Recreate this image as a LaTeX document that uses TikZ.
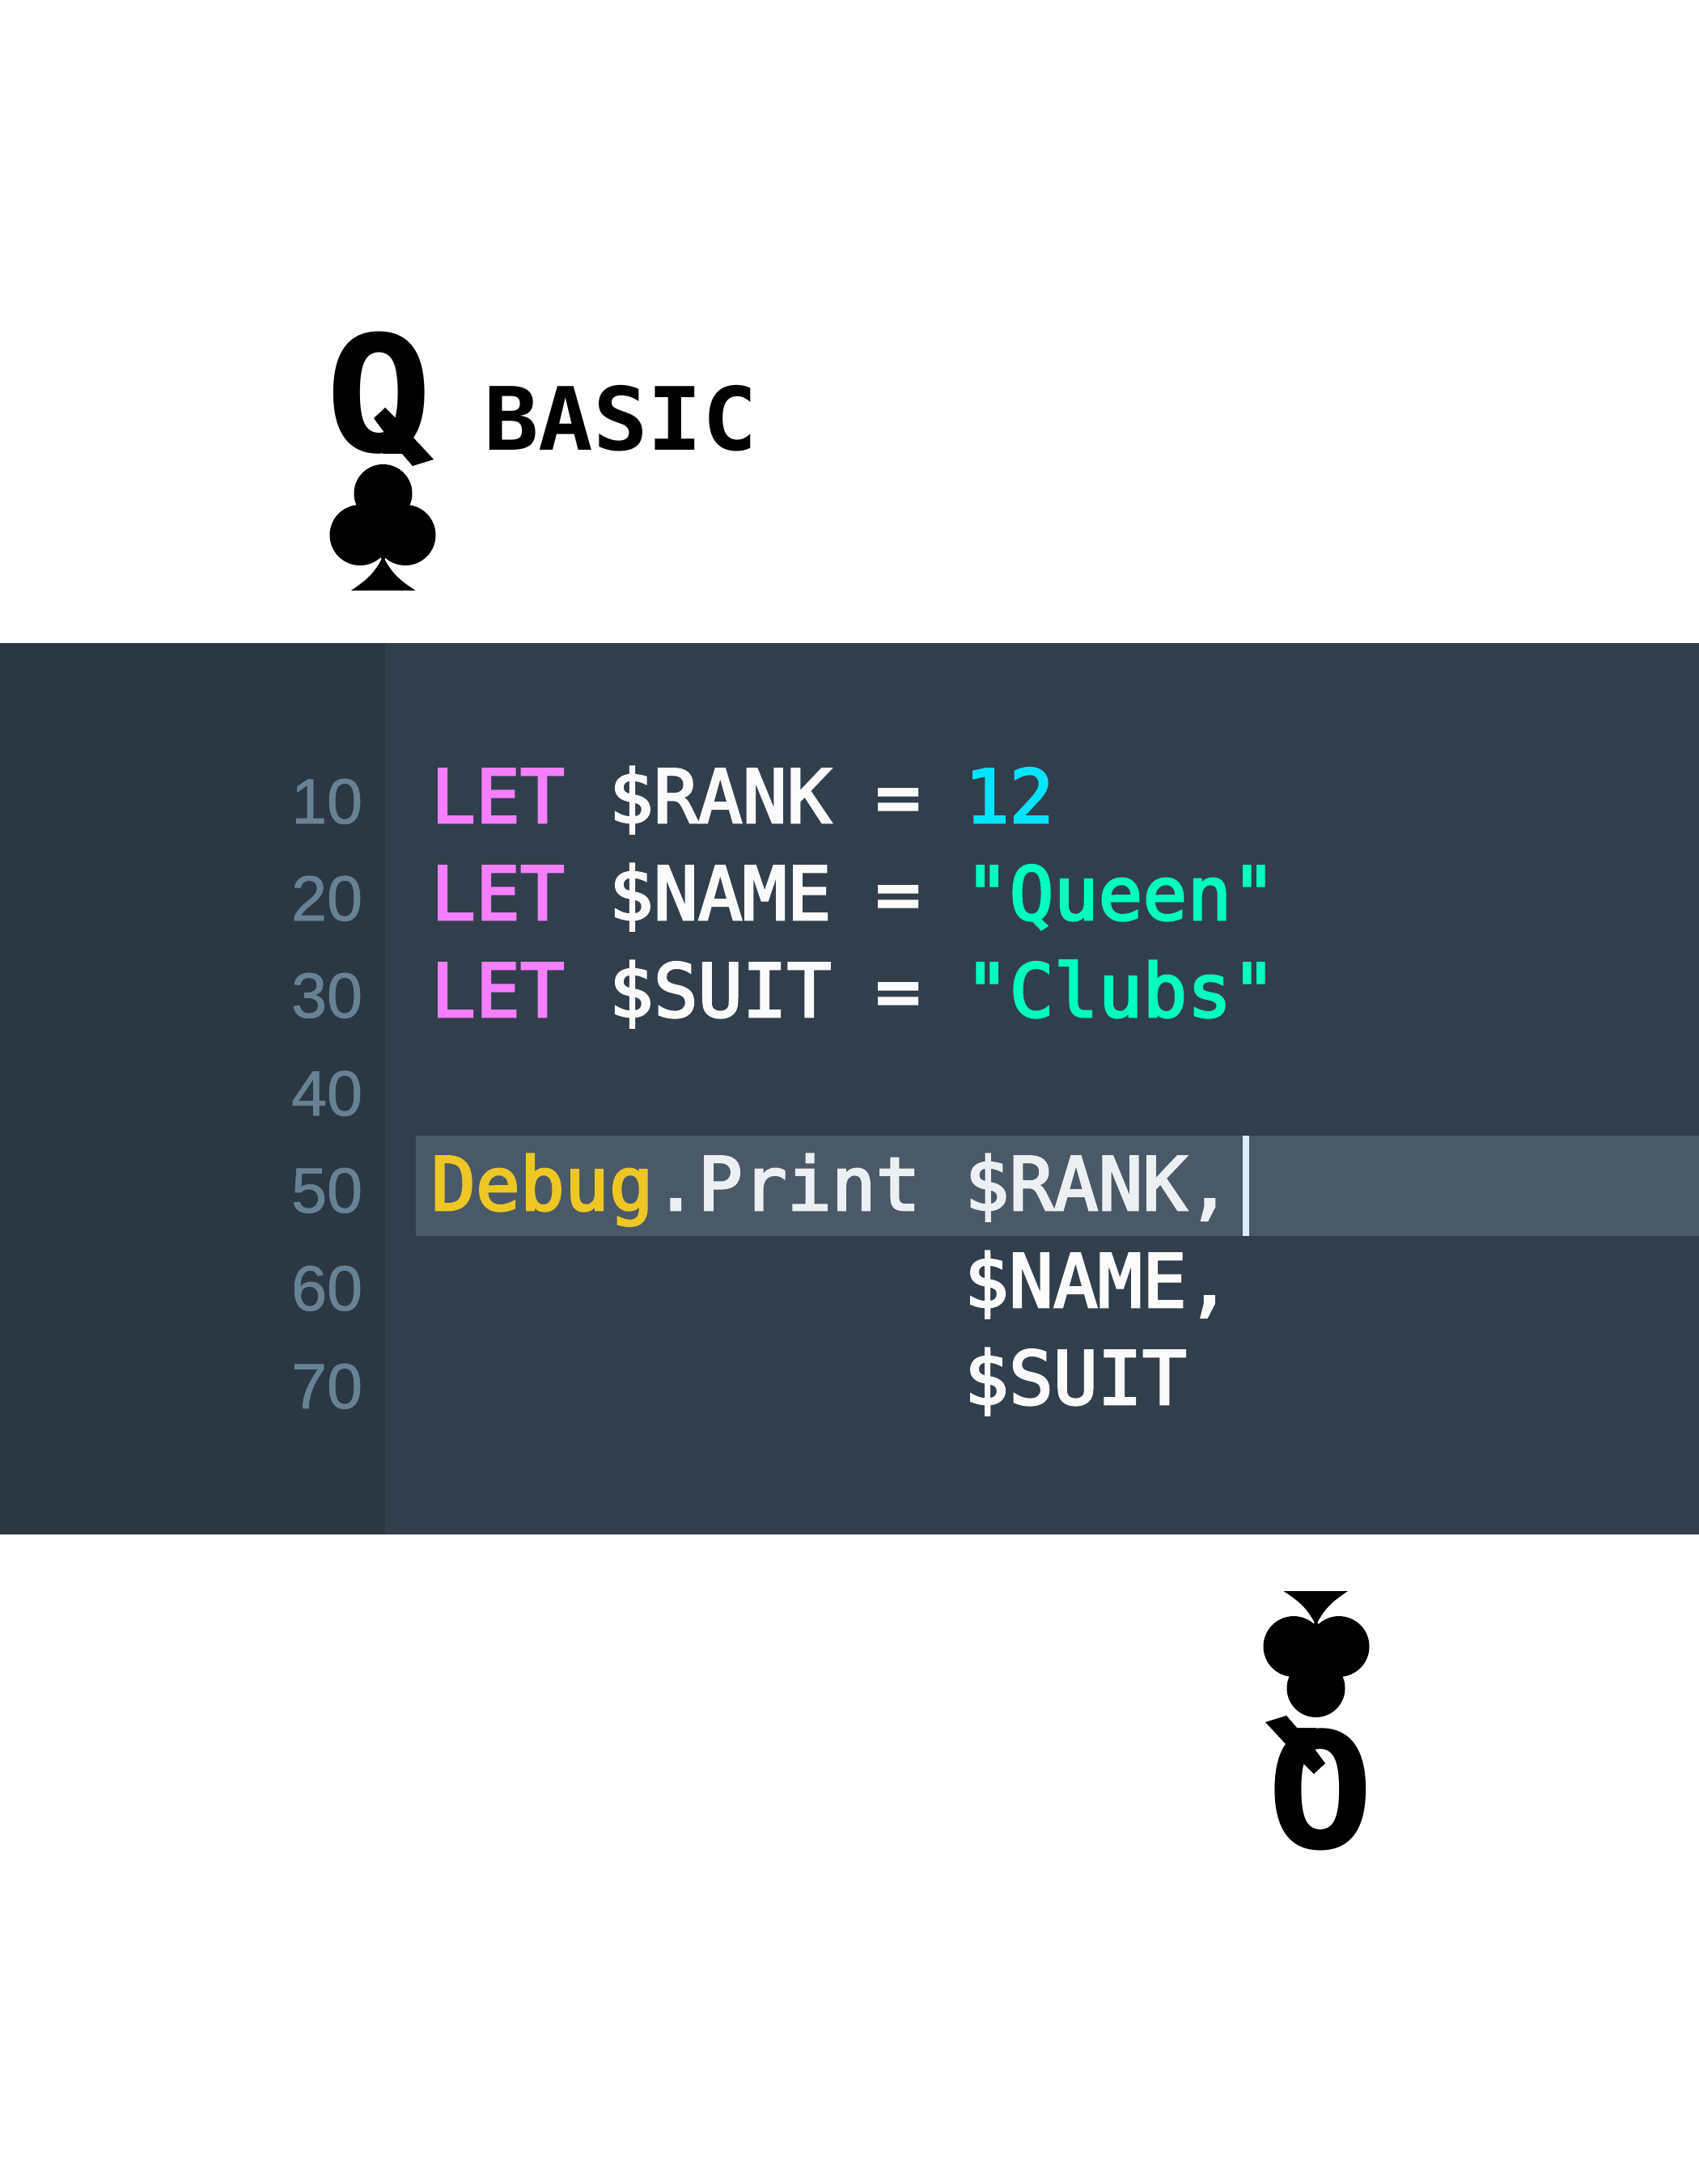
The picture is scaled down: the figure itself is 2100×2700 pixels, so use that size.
\documentclass[tikz,border=0pt]{standalone}
\usepackage{fontspec}
\newfontfamily\codefont[FakeBold=3]{DejaVu Sans Mono}
\newfontfamily\qfont{DejaVu Sans Mono Bold}
\newfontfamily\numfont[FakeBold=1]{Liberation Sans}
\definecolor{panel}{HTML}{313F4D}
\definecolor{gutter}{HTML}{2B3844}
\definecolor{hl}{HTML}{4A5967}
\definecolor{kw}{HTML}{F57FFF}
\definecolor{txt}{HTML}{FBFBFB}
\definecolor{hltxt}{HTML}{EDF0F3}
\definecolor{cyn}{HTML}{00E5FF}
\definecolor{grn}{HTML}{00FFBF}
\definecolor{ylw}{HTML}{EEC724}
\definecolor{lnum}{HTML}{688295}
\definecolor{cursorc}{HTML}{DDEEFB}
\tikzset{
 code/.style={anchor=base west,inner sep=0pt,outer sep=0pt,font=\codefont\fontsize{91.3}{100}\selectfont,text=txt},
 lnumber/.style={anchor=base east,inner sep=0pt,outer sep=0pt,font=\numfont\fontsize{79}{90}\selectfont,text=lnum},
 bigq/.style={inner sep=0pt,outer sep=0pt,xscale=1.1,font=\qfont\fontsize{200}{220}\selectfont,text=black},
 titletext/.style={anchor=base west,inner sep=0pt,outer sep=0pt,xscale=1.04,font=\qfont\fontsize{108}{120}\selectfont,text=black},
}
\newcommand{\clubshape}{%
 \fill (473.5,610) circle (36);
 \fill (445,661.5) circle (37.5);
 \fill (501,661.5) circle (37.5);
 \fill (473.5,640) circle (20);
 \fill (473.5,688) .. controls (463,708) and (455,716) .. (434,730) -- (513.5,730) .. controls (492,716) and (484,708) .. (473.5,688) -- cycle;
 \fill (445,640) -- (501,640) -- (473.5,695) -- cycle;
}
\newcommand{\qtail}{%
 \fill[white] (450,561) -- (497,561) -- (510,576) -- (510,584) -- (450,584) -- cycle;
 \fill (476,504) -- (462,517) -- (473,532) -- (492,555) -- (510,576) -- (536,568) -- (510,540) -- (490,518) -- cycle;
}
\begin{document}
\begin{tikzpicture}[x=1pt,y=-1pt]
\useasboundingbox (0,0) rectangle (2100,2700);
\fill[white] (0,0) rectangle (2100,2700);
\fill[panel] (0,795) rectangle (2100,1897);
\fill[gutter] (0,795) rectangle (476,1897);
\fill[hl] (514,1404) rectangle (2100,1528);
\fill[cursorc] (1536,1404) rectangle (1544,1528);
\foreach \n/\yy in {10/1018,20/1138,30/1258,40/1379,50/1499,60/1620,70/1741}
  \node[lnumber] (n\n) at (448,\yy) {\n};
\node[code] (l1) at (533,1017) {\textcolor{kw}{LET}~\$RANK~=~\textcolor{cyn}{12}};
\node[code] (l2) at (533,1137) {\textcolor{kw}{LET}~\$NAME~=~\textcolor{grn}{"Queen"}};
\node[code] (l3) at (533,1257) {\textcolor{kw}{LET}~\$SUIT~=~\textcolor{grn}{"Clubs"}};
\node[code,text=hltxt] (l5) at (533,1496) {\textcolor{ylw}{Debug}.Print~\$RANK,};
\node[code] (l6) at (1192,1616) {\$NAME,};
\node[code] (l7) at (1192,1736) {\$SUIT};
\node[bigq,anchor=base west] (qa) at (402,558) {Q};
\qtail
\node[titletext] (basic) at (598,556) {BASIC};
\clubshape
\node[bigq,anchor=base west,rotate=180] (qb) at (1698,2139) {Q};
\begin{scope}[shift={(2100,2697)},x=-1pt,y=1pt]
\qtail
\clubshape
\end{scope}
\end{tikzpicture}
\end{document}
